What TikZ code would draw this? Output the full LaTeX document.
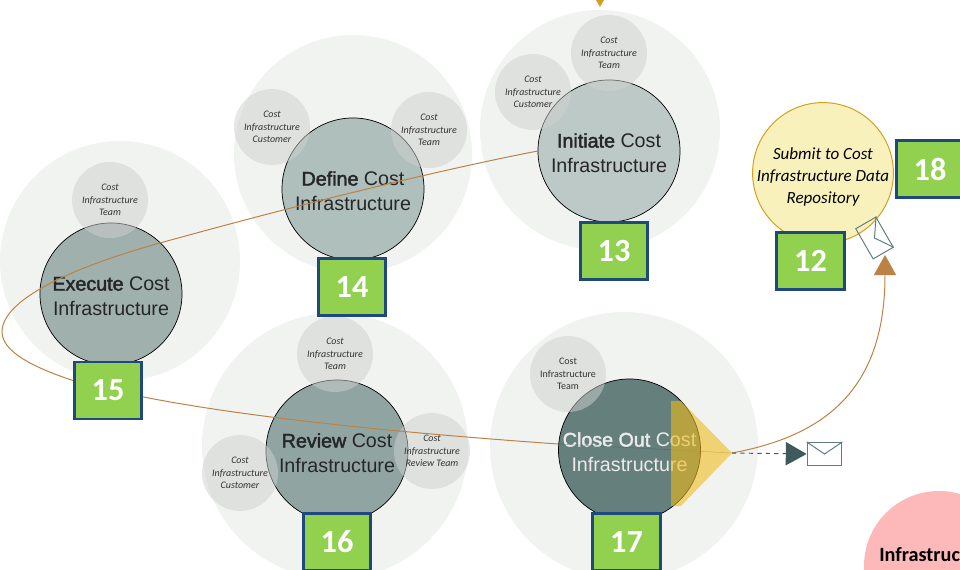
\documentclass[tikz,border=0pt]{standalone}
\usepackage{fontspec}
\setmainfont{Carlito}
\newfontfamily\phasefont{Liberation Sans}
\newfontfamily\phasebold[FakeBold=2.2]{Liberation Sans}
\usetikzlibrary{arrows.meta}

\definecolor{paleback}{HTML}{F1F3F1}
\definecolor{smallgray}{HTML}{CFD1CF}
\definecolor{numgreen}{HTML}{92D050}
\definecolor{numblue}{HTML}{1F497D}
\definecolor{flowline}{HTML}{BB8243}
\definecolor{mailline}{HTML}{5E7F7F}
\definecolor{maildark}{HTML}{3F5A5A}
\definecolor{submityellow}{HTML}{F9F1BC}
\definecolor{submitline}{HTML}{D1A020}
\definecolor{gateyellow}{HTML}{F2BB1A}
\definecolor{pinkback}{HTML}{FDB9B9}

\newcommand{\phasetext}[1]{\rule{0pt}{13pt}{\phasebold #1} Cost\\Infrastructure}

\tikzset{
    paleback/.style={circle, fill=paleback, inner sep=0pt},
    phase/.style={circle, draw=black, line width=0.5pt, minimum size=3.55cm, inner sep=0pt,
        align=center, font=\phasefont\fontsize{14}{17.8}\selectfont, text=black!85},
    role/.style={circle, fill=smallgray, fill opacity=0.5, text opacity=1, minimum size=1.9cm,
        inner sep=0pt, align=center, font=\fontsize{7.1}{9}\selectfont\itshape, text=black!80},
    numbox/.style={draw=numblue, fill=numgreen, line width=2pt, minimum width=1.68cm, minimum height=1.42cm,
        inner sep=0pt, text=white, font=\fontsize{23}{24}\selectfont\bfseries},
    envelope/.style={draw=mailline, line width=0.7pt, minimum width=0.87cm, minimum height=0.58cm, inner sep=0pt},
    flow/.style={draw=flowline, line width=0.7pt}
}

\begin{document}
\begin{tikzpicture}[x=0.025cm, y=-0.025cm]
    \clip (0,0) rectangle (960,570);
    \fill[white] (0,0) rectangle (960,570);

    % Pale discs behind the phases
    \foreach \nm/\cx/\cy/\rad in {a/600/130/120, b/353/154/119, c/120/261/120, d/335/446/133, e/624/446/134} {
        \fill[paleback] (\cx,\cy) circle (\rad);
    }

    % Arrowhead coming in from above
    \fill[submitline] (596,0) -- (604,0) -- (600,7) -- cycle;

    % Phases
    \node[phase, fill={rgb,255:red,189;green,201;blue,199}] (initiate) at (609,151) {\phasetext{Initiate}};
    \node[phase, fill={rgb,255:red,175;green,191;blue,188}] (define) at (353,189) {\phasetext{Define}};
    \node[phase, fill={rgb,255:red,160;green,176;blue,173}] (execute) at (111,294) {\phasetext{Execute}};
    \node[phase, fill={rgb,255:red,144;green,165;blue,162}] (review) at (337,451) {\phasetext{Review}};
    \node[phase, fill={rgb,255:red,101;green,127;blue,125}, text=white!92!black] (close) at (629.5,450) {\phasetext{Close Out}};

    % Roles around the phases
    \foreach \nm/\cx/\cy/\txt in {
        initteam/609/53/{Cost\\Infrastructure\\Team},
        initcust/533/92/{Cost\\Infrastructure\\Customer},
        defcust/272/127/{Cost\\Infrastructure\\Customer},
        defteam/429/130/{Cost\\Infrastructure\\Team},
        execteam/110/200/{Cost\\Infrastructure\\Team},
        revteam/335/354/{Cost\\Infrastructure\\Team},
        revcust/240/473/{Cost\\Infrastructure\\Customer},
        revrev/432/451/{Cost\\Infrastructure\\Review Team}} {
        \node[role] (\nm) at (\cx,\cy) {\txt};
    }
    \node[role, font=\fontsize{7.1}{9}\selectfont] (closeteam) at (568,374) {Cost\\Infrastructure\\Team};

    % Repository
    \node[circle, draw=submitline, fill=submityellow, line width=0.7pt, minimum size=3.52cm, inner sep=-0.5cm,
        align=center, font=\fontsize{12.1}{15.8}\selectfont\itshape] (submit) at (823,173) {\rule{0pt}{14pt}Submit to Cost\\Infrastructure Data\\Repository};

    % Pink disc, cut by the page edge
    \fill[pinkback] (939,566) circle (75);
    \node[anchor=west, inner sep=0pt, font=\fontsize{14.4}{15}\selectfont\bfseries] (infra) at (879,555) {Infrastruc};

    % Number boxes
    \node[numbox] (num13) at (614,251) {13};
    \node[numbox] (num18) at (930,169) {18};
    \node[numbox] (num12) at (810.5,261) {12};
    \node[numbox] (num14) at (352,287) {14};
    \node[numbox] (num15) at (108,390.5) {15};
    \node[numbox] (num16) at (337,542) {16};
    \node[numbox] (num17) at (626.5,542) {17};

    % Flow between the phases
    \draw[flow] (initiate.west) .. controls (430,172) and (290,207) .. (160,243)
        .. controls (70,268) and (2,300) .. (2,332)
        .. controls (2,352) and (35,368) .. ([yshift=0.25cm]num15.west);
    \draw[flow] ([yshift=-0.16cm]num15.east) .. controls (260,420) and (430,435) .. ([yshift=0.15cm]close.west);

    % Gate on the last phase
    \coordinate (gatetip) at (732,453);
    \draw[maildark, line width=0.4pt, draw opacity=0.45] ([yshift=0.15cm]close.west) -- (gatetip);
    \fill[gateyellow, fill opacity=0.59] (671,401) -- (681,401) -- (gatetip) -- (681,506) -- (671,506) -- cycle;

    % Envelopes
    \node[envelope, rotate=-60] (sentmail) at (874.5,238) {};
    \draw[mailline, line width=0.7pt] (sentmail.north west) -- (sentmail.center) -- (sentmail.north east);
    \node[envelope, fill=white] (outmail) at (824.5,454) {};
    \draw[mailline, line width=0.7pt] (outmail.north west) -- (outmail.center) -- (outmail.north east);
    \coordinate (sentin) at (885,255);

    % Flow out of the gate
    \draw[flow, -{Triangle[length=0.5cm, width=0.55cm]}] (gatetip) .. controls (830,435) and (885,385) .. (sentin);
    \draw[maildark, line width=0.7pt, dashed, -{Triangle[length=0.52cm, width=0.58cm]}] (gatetip) -- (outmail.west);
\end{tikzpicture}
\end{document}
